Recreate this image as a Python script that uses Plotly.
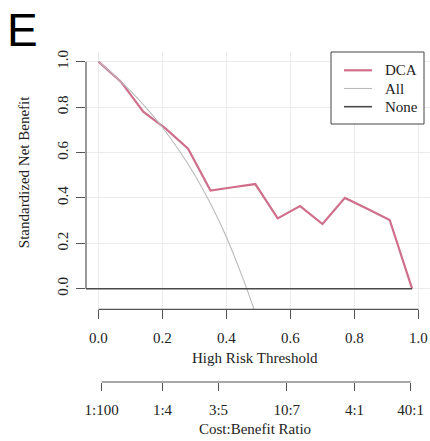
import plotly.graph_objects as go

# Decision curve: standardized net benefit by high-risk threshold
thresholds = [0.00, 0.07, 0.14, 0.21, 0.28, 0.35, 0.42, 0.49, 0.56, 0.63, 0.70, 0.77, 0.84, 0.91, 0.98]
dca_benefit = [1.000, 0.912, 0.780, 0.705, 0.617, 0.432, 0.447, 0.461, 0.310, 0.364, 0.285, 0.400, 0.352, 0.303, 0.000]

# Treat-all reference curve
all_thresholds = [0.00, 0.05, 0.10, 0.15, 0.20, 0.25, 0.30, 0.35, 0.40, 0.45, 0.487]
all_benefit = [1.000, 0.939, 0.871, 0.795, 0.710, 0.613, 0.503, 0.375, 0.227, 0.051, -0.094]

# Treat-none reference (zero benefit)
none_benefit = 0.0

x_ticks = [0.0, 0.2, 0.4, 0.6, 0.8, 1.0]
x_tick_text = ["0.0", "0.2", "0.4", "0.6", "0.8", "1.0"]
y_ticks = [0.0, 0.2, 0.4, 0.6, 0.8, 1.0]
y_tick_text = ["0.0", "0.2", "0.4", "0.6", "0.8", "1.0"]

# Cost:benefit ratio axis, placed at threshold = cost / (cost + benefit)
cb_labels = ["1:100", "1:4", "3:5", "10:7", "4:1", "40:1"]
cb_cost = [1, 1, 3, 10, 4, 40]
cb_benefit = [100, 4, 5, 7, 1, 1]
cb_positions = [c / (c + b) for c, b in zip(cb_cost, cb_benefit)]

legend_names = ["DCA", "All", "None"]
legend_colors = ["#cf6f8b", "#bababa", "#4a4a4a"]
legend_widths = [2.2, 1.1, 1.6]

X_RANGE = [-0.039, 1.036]
Y_RANGE = [-0.0907, 1.0427]
Y_DOMAIN_BOTTOM = 0.2203

W, H = 430, 441
M_L, M_R, M_T, M_B = 86, 0, 52, 59
PW, PH = W - M_L - M_R, H - M_T - M_B


def px_x(px):
    return (px - M_L) / PW


def px_y(py):
    return (H - M_B - py) / PH


SERIF = "Liberation Serif, Times New Roman, serif"
AXIS_COLOR = "#555555"
TEXT_COLOR = "#222222"
GRID_COLOR = "#ebebeb"

fig = go.Figure()

fig.add_trace(go.Scatter(
    x=thresholds, y=dca_benefit, mode="lines", name=legend_names[0],
    line=dict(color=legend_colors[0], width=legend_widths[0]),
))
fig.add_trace(go.Scatter(
    x=all_thresholds, y=all_benefit, mode="lines", name=legend_names[1],
    line=dict(color=legend_colors[1], width=legend_widths[1], shape="spline", smoothing=0.6),
))
fig.add_trace(go.Scatter(
    x=[X_RANGE[0], thresholds[-1]], y=[none_benefit, none_benefit], mode="lines", name=legend_names[2],
    line=dict(color=legend_colors[2], width=legend_widths[2]),
))
# carrier trace so the cost:benefit axis is drawn
fig.add_trace(go.Scatter(
    x=[], y=[], xaxis="x2", yaxis="y", showlegend=False, hoverinfo="skip",
))

tick_font = dict(family=SERIF, size=15, color=TEXT_COLOR)

fig.update_layout(
    width=W, height=H,
    margin=dict(l=M_L, r=M_R, t=M_T, b=M_B),
    paper_bgcolor="white", plot_bgcolor="white",
    showlegend=False,
    xaxis=dict(
        range=X_RANGE, domain=[0, 1], anchor="y",
        tickvals=x_ticks, ticktext=x_tick_text,
        ticks="outside", ticklen=9, tickwidth=1, tickcolor=AXIS_COLOR,
        showline=False, zeroline=False,
        showgrid=True, gridcolor=GRID_COLOR, gridwidth=1,
        tickfont=tick_font, ticklabelstandoff=6,
    ),
    yaxis=dict(
        range=Y_RANGE, domain=[Y_DOMAIN_BOTTOM, 1], anchor="x",
        tickvals=y_ticks, ticktext=y_tick_text,
        ticks="outside", ticklen=9, tickwidth=1, tickcolor=AXIS_COLOR,
        showline=False, zeroline=False,
        showgrid=True, gridcolor=GRID_COLOR, gridwidth=1,
        tickfont=tick_font, tickangle=-90, ticklabelstandoff=2,
    ),
    xaxis2=dict(
        range=X_RANGE, overlaying="x", anchor="free", position=0,
        tickvals=cb_positions, ticktext=cb_labels,
        ticks="outside", ticklen=8, tickwidth=1, tickcolor=AXIS_COLOR,
        showline=False, zeroline=False, showgrid=False,
        tickfont=tick_font, ticklabelstandoff=6,
    ),
)

# axis lines spanning only the labelled range
fig.add_shape(type="line", xref="x", yref="paper", x0=x_ticks[0], x1=x_ticks[-1],
              y0=Y_DOMAIN_BOTTOM, y1=Y_DOMAIN_BOTTOM, line=dict(color=AXIS_COLOR, width=1.2))
fig.add_shape(type="line", xref="paper", yref="y", x0=0, x1=0,
              y0=y_ticks[0], y1=y_ticks[-1], line=dict(color=AXIS_COLOR, width=1.2))
fig.add_shape(type="line", xref="x", yref="paper", x0=cb_positions[0], x1=cb_positions[-1],
              y0=0, y1=0, line=dict(color=AXIS_COLOR, width=1.2))

# legend box with line keys
fig.add_shape(type="rect", xref="paper", yref="paper",
              x0=px_x(331), x1=px_x(424), y0=px_y(124), y1=px_y(52),
              line=dict(color="#444444", width=1), fillcolor="white", layer="above")
for i, (name, color, width) in enumerate(zip(legend_names, legend_colors, legend_widths)):
    row_y = px_y(70.3 + 18.2 * i)
    fig.add_shape(type="line", xref="paper", yref="paper",
                  x0=px_x(344), x1=px_x(372), y0=row_y, y1=row_y,
                  line=dict(color=color, width=width), layer="above")
    fig.add_annotation(text=name, xref="paper", yref="paper",
                       x=px_x(383), y=row_y, xanchor="left", yanchor="middle",
                       showarrow=False, font=dict(family=SERIF, size=15, color=TEXT_COLOR))

title_font = dict(family=SERIF, size=15, color=TEXT_COLOR)
fig.add_annotation(text="High Risk Threshold", xref="paper", yref="paper",
                   x=0.491, y=0.0727, xanchor="center", yanchor="middle",
                   showarrow=False, font=title_font)
fig.add_annotation(text="Cost:Benefit Ratio", xref="paper", yref="paper",
                   x=0.491, y=-0.142, xanchor="center", yanchor="middle",
                   showarrow=False, font=title_font)
fig.add_annotation(text="Standardized Net Benefit", xref="paper", yref="paper",
                   x=-0.180, y=0.636, xanchor="center", yanchor="middle", textangle=-90,
                   showarrow=False, font=title_font)
fig.add_annotation(text="E", xref="paper", yref="paper",
                   x=-0.2355, y=1.067, xanchor="left", yanchor="middle",
                   showarrow=False, font=dict(family="Liberation Sans, Arial, sans-serif", size=46, color="black"))

fig.write_html("out.html")
